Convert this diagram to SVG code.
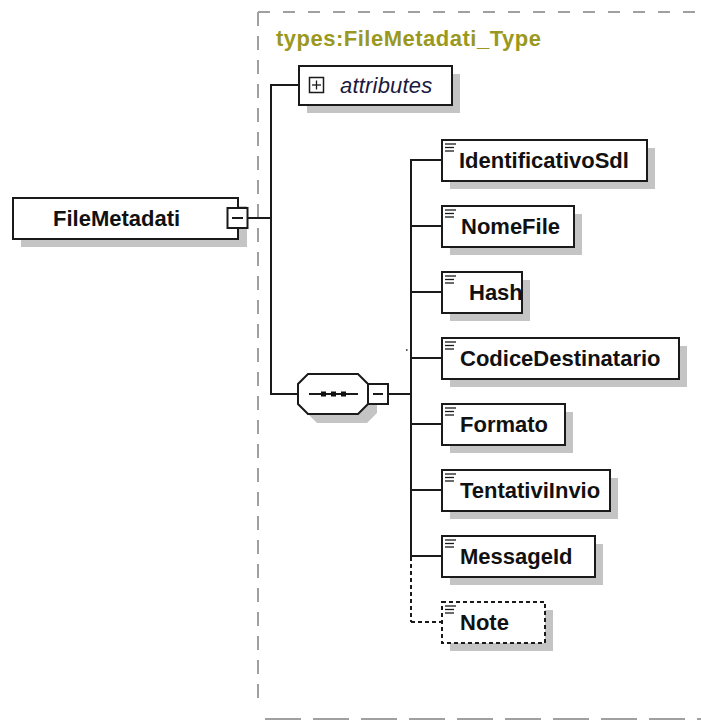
<svg xmlns="http://www.w3.org/2000/svg" width="701" height="720" viewBox="0 0 701 720">
<style>
.box{fill:#fff;stroke:#1a1a1a;stroke-width:2}
.shadow{fill:#c4c4c4}
.ln{stroke:#1a1a1a;stroke-width:2;fill:none}
.dl{stroke:#1a1a1a;stroke-width:2;fill:none;stroke-dasharray:4 3}
.lbl{font-family:"Liberation Sans",Arial,sans-serif;font-weight:bold;font-size:22px;fill:#111}
.ico{stroke:#1a1a1a;stroke-width:1.3}
.frame{stroke:#a0a0a0;stroke-width:2;fill:none}
</style>
<defs>
<g id="icon"><line class="ico" x1="445" y1="0" x2="456" y2="0"/><line class="ico" x1="445" y1="3.5" x2="454" y2="3.5"/><line class="ico" x1="445" y1="7" x2="454" y2="7"/></g>
</defs>
<g id="frame">
<line class="frame" x1="258" y1="12" x2="701" y2="12" stroke-dasharray="12 13"/>
<line class="frame" x1="258" y1="12" x2="258" y2="700" stroke-dasharray="14 10"/>
<line class="frame" x1="265" y1="719" x2="701" y2="719" stroke-dasharray="36 12"/>
<text x="276" y="46" font-family="'Liberation Sans',Arial,sans-serif" font-weight="bold" font-size="22" letter-spacing="0.5" fill="#9a981e">types:FileMetadati_Type</text>
</g>
<g id="connectors">
<line class="ln" x1="248" y1="218" x2="271" y2="218"/>
<line class="ln" x1="271" y1="84" x2="271" y2="395"/>
<line class="ln" x1="270" y1="85" x2="299" y2="85"/>
<line class="ln" x1="270" y1="394" x2="298" y2="394"/>
<line class="ln" x1="388" y1="394" x2="411" y2="394"/>
<line class="ln" x1="411" y1="159" x2="411" y2="557"/>
<line class="dl" x1="411" y1="557" x2="411" y2="622"/>
<line class="ln" x1="410" y1="160" x2="441" y2="160"/>
<line class="ln" x1="410" y1="226" x2="441" y2="226"/>
<line class="ln" x1="410" y1="292" x2="441" y2="292"/>
<line class="ln" x1="410" y1="358" x2="441" y2="358"/>
<line class="ln" x1="410" y1="424" x2="441" y2="424"/>
<line class="ln" x1="410" y1="490" x2="441" y2="490"/>
<line class="ln" x1="410" y1="556" x2="441" y2="556"/>
<line class="dl" x1="411" y1="622" x2="441" y2="622"/>
<rect x="406" y="349" width="1.5" height="2" fill="#555"/>
</g>
<g id="FileMetadati">
<rect class="shadow" x="21" y="206" width="226" height="41"/>
<rect class="box" x="13" y="198" width="225" height="41"/>
<text class="lbl" x="53" y="226">FileMetadati</text>
<rect class="box" x="227.5" y="208" width="20" height="20"/>
<line class="ln" x1="232" y1="218" x2="243" y2="218"/>
</g>
<g id="attributes">
<rect class="shadow" x="307" y="74" width="153" height="39"/>
<rect class="box" x="299" y="66" width="153" height="39"/>
<rect x="309.5" y="77.5" width="14" height="15" fill="#fff" stroke="#1a1a1a" stroke-width="1.5"/>
<line class="ico" x1="312" y1="85" x2="321" y2="85" stroke-width="1.5"/>
<line class="ico" x1="316.5" y1="80.5" x2="316.5" y2="89.5" stroke-width="1.5"/>
<text x="340" y="93" font-family="'Liberation Sans',Arial,sans-serif" font-style="italic" font-size="22" letter-spacing="0.2" fill="#1a1a40">attributes</text>
</g>
<g id="sequence">
<polygon class="shadow" points="317,383 367,383 377,393 377,413 367,423 317,423 307,413 307,393"/>
<polygon class="box" points="308,374 358,374 368,384 368,404 358,414 308,414 298,404 298,384"/>
<line class="ln" x1="309" y1="394" x2="358" y2="394"/>
<rect x="321" y="391.5" width="5" height="5" fill="#111"/>
<rect x="331" y="391.5" width="5" height="5" fill="#111"/>
<rect x="341" y="391.5" width="5" height="5" fill="#111"/>
<rect class="box" x="368" y="384" width="20" height="20"/>
<line class="ln" x1="373" y1="394" x2="383" y2="394"/>
</g>
<g id="IdentificativoSdl">
<rect class="shadow" x="450" y="148" width="205" height="41"/>
<rect class="box" x="442" y="140" width="205" height="41"/>
<use href="#icon" y="144"/>
<text class="lbl" x="459" y="168">IdentificativoSdl</text>
</g>
<g id="NomeFile">
<rect class="shadow" x="450" y="214" width="132" height="41"/>
<rect class="box" x="442" y="206" width="132" height="41"/>
<use href="#icon" y="210"/>
<text class="lbl" x="461" y="234">NomeFile</text>
</g>
<g id="Hash">
<rect class="shadow" x="450" y="280" width="80" height="41"/>
<rect class="box" x="442" y="272" width="80" height="41"/>
<use href="#icon" y="276"/>
<text class="lbl" x="469" y="300">Hash</text>
</g>
<g id="CodiceDestinatario">
<rect class="shadow" x="450" y="346" width="237" height="41"/>
<rect class="box" x="442" y="338" width="237" height="41"/>
<use href="#icon" y="342"/>
<text class="lbl" x="460" y="366">CodiceDestinatario</text>
</g>
<g id="Formato">
<rect class="shadow" x="450" y="412" width="123" height="41"/>
<rect class="box" x="442" y="404" width="123" height="41"/>
<use href="#icon" y="408"/>
<text class="lbl" x="460" y="432">Formato</text>
</g>
<g id="TentativiInvio">
<rect class="shadow" x="450" y="478" width="168" height="41"/>
<rect class="box" x="442" y="470" width="168" height="41"/>
<use href="#icon" y="474"/>
<text class="lbl" x="460" y="498">TentativiInvio</text>
</g>
<g id="MessageId">
<rect class="shadow" x="450" y="544" width="153" height="41"/>
<rect class="box" x="442" y="536" width="153" height="41"/>
<use href="#icon" y="540"/>
<text class="lbl" x="460" y="564">MessageId</text>
</g>
<g id="Note">
<rect class="shadow" x="450" y="610" width="103" height="41"/>
<rect x="442" y="602" width="103" height="41" fill="#fff" stroke="#1a1a1a" stroke-width="2" stroke-dasharray="4 3"/>
<use href="#icon" y="606"/>
<text class="lbl" x="460" y="630">Note</text>
</g>
</svg>
